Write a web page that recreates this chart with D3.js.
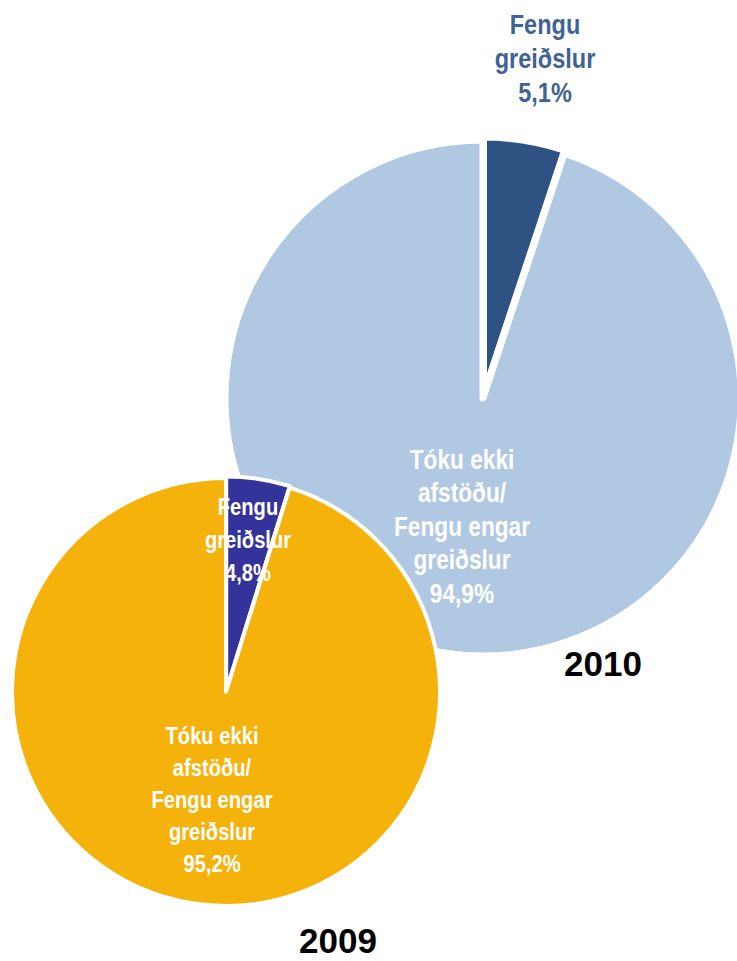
<!DOCTYPE html>
<html><head><meta charset="utf-8">
<script src="https://cdn.jsdelivr.net/npm/d3@7"></script>
<style>
html,body{margin:0;padding:0;background:#fff;}
svg{display:block;}
.lbl{font-family:"Liberation Sans","Arial",sans-serif;font-weight:bold;}
.year{font-family:"Liberation Sans","Arial",sans-serif;font-weight:bold;}
</style></head>
<body>
<svg id="c" width="737" height="961"></svg>
<script>
// Data
const categories = ["Fengu greiðslur", "Tóku ekki afstöðu/ Fengu engar greiðslur"];
const values2010 = [5.1, 94.9];
const values2009 = [4.8, 95.2];
const years = ["2010", "2009"];
const labels2010 = [["Fengu", "greiðslur", "5,1%"], ["Tóku ekki", "afstöðu/", "Fengu engar", "greiðslur", "94,9%"]];
const labels2009 = [["Fengu", "greiðslur", "4,8%"], ["Tóku ekki", "afstöðu/", "Fengu engar", "greiðslur", "95,2%"]];

const svg = d3.select("#c");
const pie = d3.pie().sort(null).value(d => d);
const NARROW = 0.84;

function drawPie(cfg) {
  const g = svg.append("g").attr("transform", `translate(${cfg.cx},${cfg.cy})`);
  const arc = d3.arc().innerRadius(0).outerRadius(cfg.r);
  const arcs = pie(cfg.values);
  g.selectAll("path").data(arcs).join("path")
    .attr("d", arc)
    .attr("fill", (d, i) => cfg.colors[i])
    .attr("stroke", "#fff")
    .attr("stroke-width", cfg.sw)
    .attr("stroke-linejoin", "round")
    .attr("transform", (d, i) => {
      if (i !== 0) return null;
      const a = (d.startAngle + d.endAngle) / 2;
      return `translate(${Math.sin(a) * cfg.explode},${-Math.cos(a) * cfg.explode})`;
    });
  // labels
  cfg.labels.forEach((lines, i) => {
    const pos = cfg.labelPos[i];
    const t = g.append("text").attr("class", "lbl")
      .attr("text-anchor", "middle")
      .attr("transform", `scale(${NARROW},1)`)
      .attr("fill", cfg.labelColors[i])
      .style("font-size", cfg.fontSize[i] + "px");
    lines.forEach((ln, k) => {
      t.append("tspan").attr("x", pos[0] / NARROW).attr("y", pos[1] + k * cfg.lineH[i]).text(ln);
    });
  });
  g.append("text").attr("class", "year")
    .attr("text-anchor", "middle")
    .attr("x", cfg.yearPos[0]).attr("y", cfg.yearPos[1])
    .style("font-size", "35px").attr("fill", "#000")
    .text(cfg.year);
}

drawPie({
  cx: 483, cy: 398, r: 258, sw: 7, explode: 3,
  values: values2010, colors: ["#2e5382", "#b1c8e3"],
  labels: labels2010, labelColors: ["#3f6395", "#ffffff"],
  labelPos: [[62, -364], [-21, 71]], lineH: [34, 33.5], fontSize: [28, 27],
  year: years[0], yearPos: [120, 278]
});

drawPie({
  cx: 226, cy: 692, r: 214, sw: 4, explode: 1.5,
  values: values2009, colors: ["#333399", "#f5b20b"],
  labels: labels2009, labelColors: ["#ffffff", "#ffffff"],
  labelPos: [[22, -177], [-14, 52]], lineH: [33, 32], fontSize: [24, 24],
  year: years[1], yearPos: [112, 261]
});
</script>
</body></html>
